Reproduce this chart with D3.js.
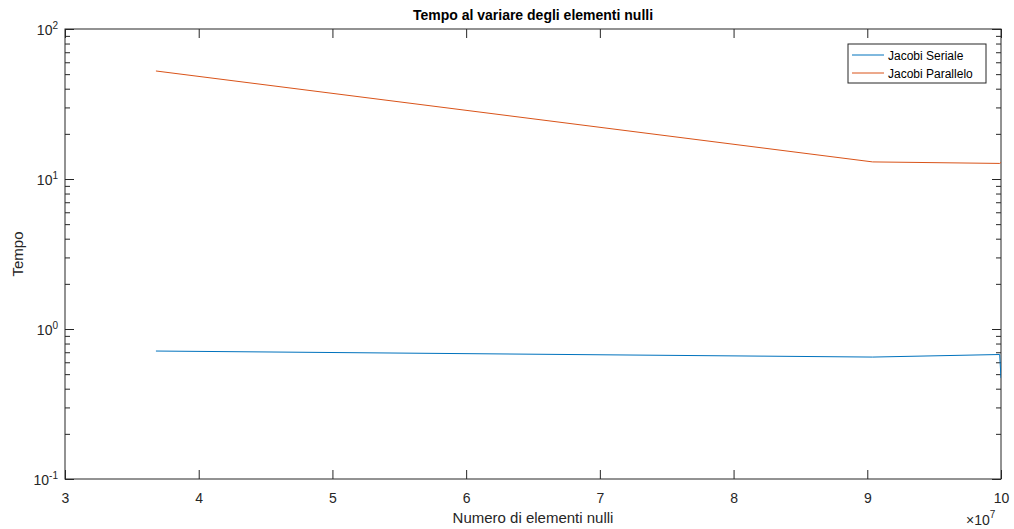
<!DOCTYPE html>
<html>
<head>
<meta charset="utf-8">
<script src="https://cdn.jsdelivr.net/npm/d3@7"></script>
<style>
  body { margin: 0; background: #fff; }
  text { font-family: "Liberation Sans", Arial, Helvetica, sans-serif; }
</style>
</head>
<body>
<script>
// data
var nulli = [3.68e7, 9.04e7, 9.99e7, 10.0e7];
var seriale = [0.713, 0.65, 0.676, 0.471];
var parallelo = [52.5, 13.0, 12.7, 12.9];
var xTicks = [3, 4, 5, 6, 7, 8, 9, 10];
var yMajor = [0.1, 1, 10, 100];
var yExp = ["-1", "0", "1", "2"];

var width = 1014, height = 529;
var pLeft = 65, pRight = 1001, pTop = 29, pBottom = 479;
var ink = "#262626";

var svg = d3.select("body").append("svg")
  .attr("width", width)
  .attr("height", height);

var x = d3.scaleLinear().domain([3e7, 10e7]).range([pLeft, pRight]);
var y = d3.scaleLog().domain([0.1, 100]).range([pBottom, pTop]);

var yMinor = y.ticks().filter(function(v) { return yMajor.indexOf(v) < 0; });

// clip for the lines
svg.append("clipPath").attr("id", "clip")
  .append("rect")
  .attr("x", pLeft).attr("y", pTop)
  .attr("width", pRight - pLeft).attr("height", pBottom - pTop);

//axes: bottom with labels, top/right mirrored ticks
function styleAxis(g) {
  g.select(".domain").remove();
  g.selectAll("line").attr("stroke", ink);
  g.selectAll("text").attr("fill", ink).style("font-size", "14px");
}

svg.append("g")
  .attr("transform", "translate(0," + pBottom + ")")
  .call(d3.axisBottom(x).tickValues(xTicks.map(function(d) { return d * 1e7; }))
    .tickSize(-9).tickPadding(14).tickFormat(function(d) { return d / 1e7; }))
  .call(styleAxis);

svg.append("g")
  .attr("transform", "translate(0," + pTop + ")")
  .call(d3.axisTop(x).tickValues(xTicks.map(function(d) { return d * 1e7; }))
    .tickSize(-9).tickFormat(""))
  .call(styleAxis);

[[pLeft, d3.axisLeft], [pRight, d3.axisRight]].forEach(function(a) {
  svg.append("g")
    .attr("transform", "translate(" + a[0] + ",0)")
    .call(a[1](y).tickValues(yMajor).tickSize(-9).tickFormat(""))
    .call(styleAxis);
  svg.append("g")
    .attr("transform", "translate(" + a[0] + ",0)")
    .call(a[1](y).tickValues(yMinor).tickSize(-5).tickFormat(""))
    .call(styleAxis);
});

// y labels as 10^n
var yl = svg.append("g");
yMajor.forEach(function(v, i) {
  var t = yl.append("text")
    .attr("x", pLeft - 7)
    .attr("y", y(v) + 6)
    .attr("text-anchor", "end")
    .attr("fill", ink)
    .style("font-size", "14px");
  t.append("tspan").text("10");
  t.append("tspan").attr("dy", -6).style("font-size", "10px").text(yExp[i]);
});

// box
svg.append("rect")
  .attr("x", pLeft).attr("y", pTop)
  .attr("width", pRight - pLeft).attr("height", pBottom - pTop)
  .attr("fill", "none").attr("stroke", ink).attr("stroke-width", 1);

var series = [
  { name: "Jacobi Seriale", values: seriale, color: "#0072BD" },
  { name: "Jacobi Parallelo", values: parallelo, color: "#D95319" }
];

var line = d3.line()
  .x(function(d) { return x(d[0]); })
  .y(function(d) { return y(d[1]); });

svg.append("g").attr("clip-path", "url(#clip)")
  .selectAll("path")
  .data(series)
  .enter().append("path")
  .attr("d", function(s) { return line(d3.zip(nulli, s.values)); })
  .attr("fill", "none")
  .attr("stroke", function(s) { return s.color; })
  .attr("stroke-width", 1);

// title + labels
svg.append("text")
  .attr("x", (pLeft + pRight) / 2).attr("y", 20)
  .attr("text-anchor", "middle")
  .attr("fill", "#000")
  .style("font-size", "14px").style("font-weight", "bold")
  .text("Tempo al variare degli elementi nulli");

svg.append("text")
  .attr("x", (pLeft + pRight) / 2).attr("y", 523)
  .attr("text-anchor", "middle")
  .attr("fill", ink)
  .style("font-size", "15px")
  .text("Numero di elementi nulli");

svg.append("text")
  .attr("transform", "translate(23," + (pTop + pBottom) / 2 + ") rotate(-90)")
  .attr("text-anchor", "middle")
  .attr("fill", ink)
  .style("font-size", "15px")
  .text("Tempo");

var ex = svg.append("text")
  .attr("x", 966).attr("y", 525)
  .attr("fill", ink)
  .style("font-size", "14px");
ex.append("tspan").text("\u00d710");
ex.append("tspan").attr("dy", -7).style("font-size", "10px").text("7");

// legend
var lg = svg.append("g");
lg.append("rect")
  .attr("x", 848).attr("y", 44).attr("width", 138).attr("height", 39)
  .attr("fill", "#fff").attr("stroke", ink).attr("stroke-width", 1);
series.forEach(function(s, i) {
  var yy = 55 + i * 18;
  lg.append("line")
    .attr("x1", 852).attr("x2", 884).attr("y1", yy).attr("y2", yy)
    .attr("stroke", s.color).attr("stroke-width", 1);
  lg.append("text")
    .attr("x", 888).attr("y", yy + 4.5)
    .attr("fill", "#000")
    .style("font-size", "12px")
    .text(s.name);
});
</script>
</body>
</html>
